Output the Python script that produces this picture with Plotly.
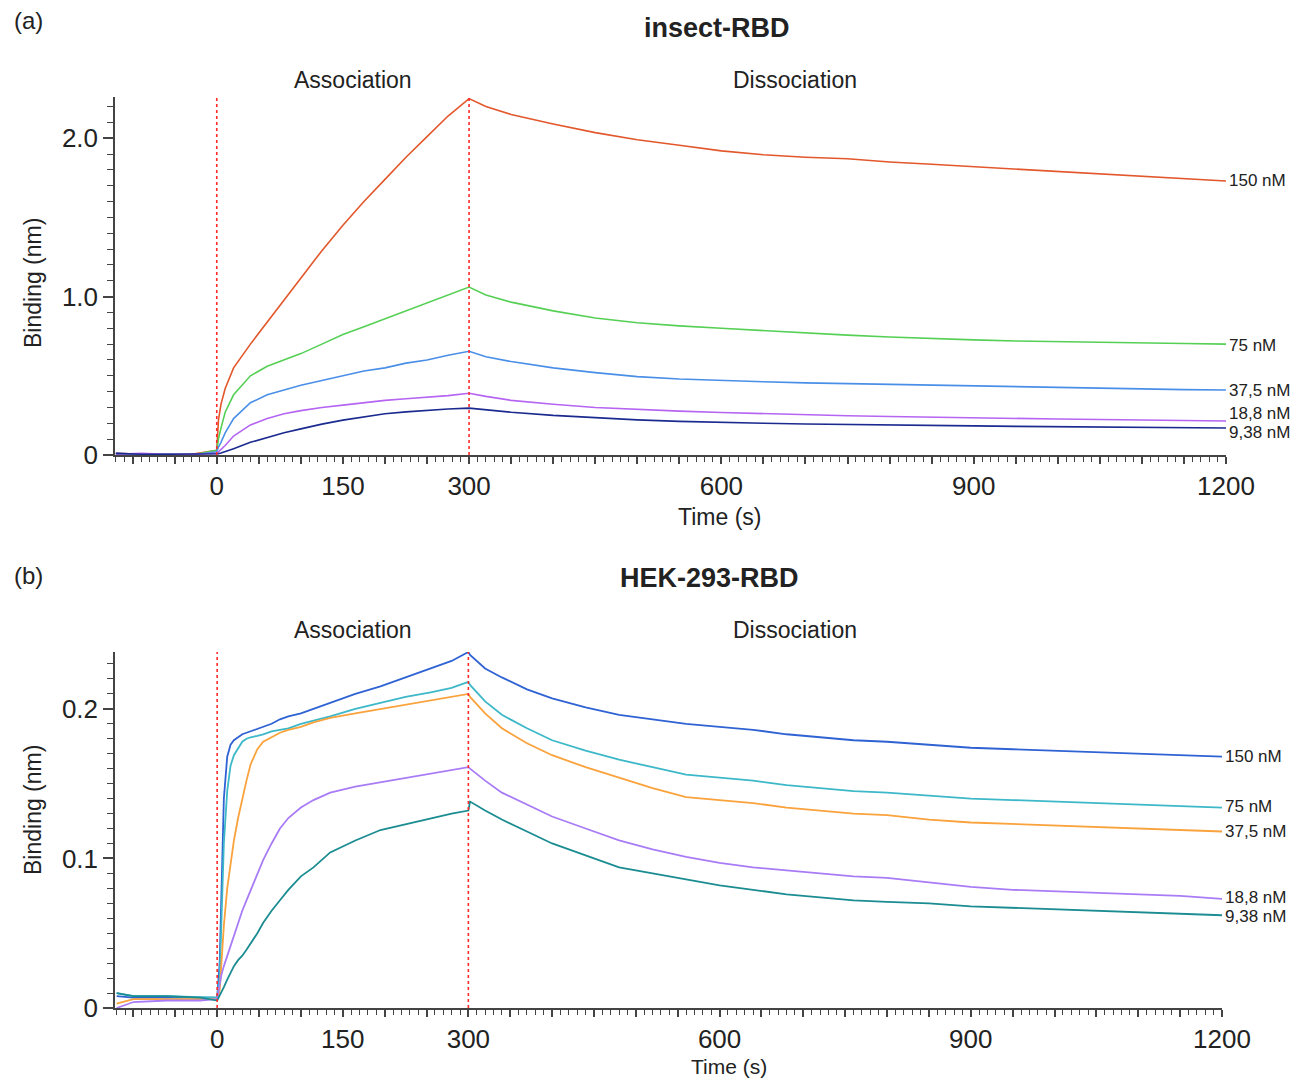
import plotly.graph_objects as go

# ---------------- data ----------------
# (a) insect-RBD
t_a = [-120, -90, -60, -30, 0, 2, 5, 10, 20, 40, 60, 80, 100, 125, 150, 175, 200, 225, 250, 275, 300,
       320, 350, 400, 450, 500, 550, 600, 650, 700, 750, 800, 850, 900, 950, 1000, 1050, 1100, 1150, 1200]
a_150 = [0.01, 0.005, 0.0, 0.005, 0.03, 0.22, 0.32, 0.42, 0.55, 0.70, 0.84, 0.98, 1.12, 1.29, 1.45, 1.60, 1.74, 1.88, 2.01, 2.14, 2.25,
         2.20, 2.15, 2.09, 2.035, 1.99, 1.955, 1.92, 1.895, 1.88, 1.87, 1.85, 1.835, 1.82, 1.805, 1.79, 1.775, 1.76, 1.745, 1.73]
a_75 = [0.0, 0.0, 0.005, 0.0, 0.03, 0.10, 0.17, 0.27, 0.38, 0.50, 0.56, 0.60, 0.64, 0.70, 0.76, 0.81, 0.86, 0.91, 0.96, 1.01, 1.06,
        1.01, 0.965, 0.91, 0.865, 0.835, 0.815, 0.80, 0.785, 0.77, 0.757, 0.745, 0.735, 0.727, 0.72, 0.715, 0.71, 0.707, 0.704, 0.70]
a_37 = [0.01, 0.005, 0.005, 0.0, 0.02, 0.05, 0.08, 0.14, 0.23, 0.33, 0.38, 0.41, 0.44, 0.47, 0.50, 0.53, 0.55, 0.58, 0.60, 0.63, 0.655,
        0.62, 0.59, 0.55, 0.52, 0.495, 0.48, 0.47, 0.462, 0.455, 0.45, 0.445, 0.44, 0.435, 0.43, 0.425, 0.42, 0.416, 0.413, 0.41]
a_18 = [0.005, 0.01, 0.005, 0.005, 0.01, 0.02, 0.04, 0.06, 0.12, 0.19, 0.23, 0.26, 0.28, 0.30, 0.315, 0.33, 0.345, 0.355, 0.365, 0.375, 0.39,
        0.37, 0.345, 0.32, 0.30, 0.287, 0.277, 0.268, 0.26, 0.254, 0.248, 0.243, 0.238, 0.234, 0.23, 0.227, 0.224, 0.221, 0.218, 0.215]
a_9 = [0.01, 0.005, 0.005, 0.005, 0.005, 0.008, 0.012, 0.02, 0.04, 0.08, 0.11, 0.14, 0.165, 0.195, 0.22, 0.24, 0.26, 0.272, 0.282, 0.29, 0.296,
       0.285, 0.27, 0.25, 0.235, 0.222, 0.212, 0.205, 0.2, 0.196, 0.192, 0.189, 0.186, 0.184, 0.181, 0.179, 0.177, 0.175, 0.173, 0.17]

# (b) HEK-293-RBD
t_b = [-120, -100, -60, -20, 0, 3, 5, 8, 12, 16, 20, 25, 30, 35, 40, 48, 55, 65, 75, 85, 100, 115, 135, 165, 195, 225, 255, 280, 300,
       302, 320, 340, 370, 400, 440, 480, 520, 560, 600, 640, 680, 720, 760, 800, 850, 900, 950, 1000, 1050, 1100, 1150, 1200]
b_150 = [0.008, 0.007, 0.007, 0.007, 0.007,
         0.03, 0.08, 0.14, 0.168, 0.176, 0.179, 0.181, 0.183, 0.184, 0.185, 0.187, 0.188, 0.19, 0.193, 0.195, 0.197, 0.2, 0.204, 0.21, 0.215, 0.221, 0.227, 0.232, 0.238,
         0.236,
         0.227, 0.221, 0.213, 0.207, 0.201, 0.196, 0.193, 0.19, 0.188, 0.186, 0.183, 0.181, 0.179, 0.178, 0.176, 0.174, 0.173, 0.172, 0.171, 0.17, 0.169, 0.168]
b_75 = [0.01, 0.008, 0.008, 0.007, 0.007,
        0.02, 0.06, 0.11, 0.145, 0.162, 0.169, 0.174, 0.178, 0.18, 0.181, 0.182, 0.183, 0.185, 0.186, 0.187, 0.19, 0.192, 0.195, 0.2, 0.204, 0.208, 0.211, 0.214, 0.218,
        0.216,
        0.205, 0.196, 0.187, 0.179, 0.172, 0.166, 0.161, 0.156, 0.154, 0.152, 0.149, 0.147, 0.145, 0.144, 0.142, 0.14, 0.139, 0.138, 0.137, 0.136, 0.135, 0.134]
b_37 = [0.003, 0.006, 0.006, 0.006, 0.006,
        0.012, 0.03, 0.055, 0.08, 0.098, 0.112, 0.127, 0.14, 0.152, 0.163, 0.173, 0.178, 0.181, 0.184, 0.186, 0.188, 0.191, 0.194, 0.197, 0.2, 0.203, 0.206, 0.208, 0.21,
        0.208,
        0.197, 0.187, 0.177, 0.169, 0.161, 0.154, 0.147, 0.141, 0.139, 0.137, 0.134, 0.132, 0.13, 0.129, 0.126, 0.124, 0.123, 0.122, 0.121, 0.12, 0.119, 0.118]
b_18 = [0.0, 0.004, 0.005, 0.005, 0.006,
        0.015, 0.022, 0.028, 0.035, 0.042, 0.049, 0.057, 0.065, 0.072, 0.079, 0.09, 0.099, 0.11, 0.12, 0.127, 0.134, 0.139, 0.144, 0.148, 0.151, 0.154, 0.157, 0.159, 0.161,
        0.16,
        0.152, 0.144, 0.136, 0.128, 0.12, 0.112, 0.106, 0.101, 0.097, 0.094, 0.092, 0.09, 0.088, 0.087, 0.084, 0.081, 0.079, 0.078, 0.077, 0.076, 0.075, 0.073]
b_9 = [0.01, 0.008, 0.008, 0.007, 0.005,
       0.008, 0.01, 0.014, 0.019, 0.024, 0.028, 0.032, 0.035, 0.039, 0.043, 0.05, 0.057, 0.065, 0.072, 0.079, 0.088, 0.094, 0.104, 0.112, 0.119, 0.123, 0.127, 0.13, 0.132,
       0.138,
       0.132, 0.126, 0.118, 0.11, 0.102, 0.094, 0.09, 0.086, 0.082, 0.079, 0.076, 0.074, 0.072, 0.071, 0.07, 0.068, 0.067, 0.066, 0.065, 0.064, 0.063, 0.062]

conc_labels = ["150 nM", "75 nM", "37,5 nM", "18,8 nM", "9,38 nM"]
x_tick_vals = [0, 150, 300, 600, 900, 1200]
x_tick_text = ["0", "150", "300", "600", "900", "1200"]
ya_tick_vals = [0, 1.0, 2.0]
ya_tick_text = ["0", "1.0", "2.0"]
yb_tick_vals = [0, 0.1, 0.2]
yb_tick_text = ["0", "0.1", "0.2"]
phase_marks = [0, 300]

# ---------------- style ----------------
OFF = 8                      # default page body margin
FW, FH = 1311 - 2 * OFF, 1086 - 2 * OFF
FONT = "Liberation Sans, Arial, sans-serif"
TXT = "#222222"
AX = "#444444"
colors_a = ["#E2572B", "#55D055", "#4A8FE7", "#B565F2", "#1B2A8F"]
colors_b = ["#2F62D3", "#3DB8C8", "#FAA23C", "#A97CF6", "#1B8C91"]
label_dy_a = [0.0, -0.006, 0.0, 0.044, -0.031]   # label offsets (nm) to avoid overlap
label_dy_b = [0.0, 0.001, 0.0, 0.001, -0.0005]


def px(x):
    return (x - OFF) / FW


def py(y):
    return 1 - (y - OFF) / FH


fig = go.Figure()
series_a = [a_150, a_75, a_37, a_18, a_9]
series_b = [b_150, b_75, b_37, b_18, b_9]

for vals, c, name in zip(series_a, colors_a, conc_labels):
    fig.add_trace(go.Scatter(x=t_a, y=vals, mode="lines", name=name,
                             line=dict(color=c, width=1.6), xaxis="x", yaxis="y",
                             showlegend=False))
for vals, c, name in zip(series_b, colors_b, conc_labels):
    fig.add_trace(go.Scatter(x=t_b, y=vals, mode="lines", name=name,
                             line=dict(color=c, width=1.8), xaxis="x2", yaxis="y2",
                             showlegend=False))

xmajor = list(range(-100, 1201, 50))
xtext = [x_tick_text[x_tick_vals.index(v)] if v in x_tick_vals else "" for v in xmajor]


def xaxis_cfg(dom, rng):
    return dict(domain=dom, range=rng, showline=True, linecolor=AX, linewidth=1.5,
                ticks="outside", ticklen=7, tickwidth=1.5, tickcolor=AX,
                tickmode="array", tickvals=xmajor, ticktext=xtext,
                tickfont=dict(family=FONT, size=26, color=TXT),
                minor=dict(tickmode="linear", tick0=0, dtick=10, ticks="outside",
                           ticklen=5, tickwidth=1.2, tickcolor=AX),
                showgrid=False, zeroline=False, fixedrange=True, automargin=False)


def yaxis_cfg(dom, rng, tv, tt, mdt):
    return dict(domain=dom, range=rng, showline=True, linecolor=AX, linewidth=1.5,
                ticks="outside", ticklen=10, tickwidth=1.5, tickcolor=AX,
                tickmode="array", tickvals=tv, ticktext=tt,
                tickfont=dict(family=FONT, size=26, color=TXT),
                minor=dict(tickmode="linear", tick0=0, dtick=mdt, ticks="outside",
                           ticklen=6, tickwidth=1.2, tickcolor=AX),
                showgrid=False, zeroline=False, fixedrange=True, automargin=False)


fig.update_layout(
    template="none",
    width=FW, height=FH, margin=dict(l=0, r=0, t=0, b=0, pad=0, autoexpand=False),
    paper_bgcolor="white", plot_bgcolor="white",
    xaxis=xaxis_cfg([px(115), px(1226)], [-121, 1200]) | dict(anchor="y"),
    yaxis=yaxis_cfg([py(455), py(97)], [0, 2.26], ya_tick_vals, ya_tick_text, 0.1) | dict(anchor="x"),
    xaxis2=xaxis_cfg([px(115), px(1222)], [-122, 1200]) | dict(anchor="y2"),
    yaxis2=yaxis_cfg([py(1008), py(652)], [0, 0.238], yb_tick_vals, yb_tick_text, 0.01) | dict(anchor="x2"),
)

# phase boundary dashed lines
for xr, yr in (("x", "y domain"), ("x2", "y2 domain")):
    for t in phase_marks:
        fig.add_shape(type="line", xref=xr, yref=yr, x0=t, x1=t, y0=0, y1=1,
                      line=dict(color="#FF2A2A", width=1.6, dash="dot"))

ann = []
# concentration labels at curve ends
for vals, lab, dy in zip(series_a, conc_labels, label_dy_a):
    ann.append(dict(x=t_a[-1], y=vals[-1] + dy, xref="x", yref="y", text=lab, showarrow=False,
                    xanchor="left", yanchor="middle", xshift=1,
                    font=dict(family=FONT, size=17, color=TXT)))
for vals, lab, dy in zip(series_b, conc_labels, label_dy_b):
    ann.append(dict(x=t_b[-1], y=vals[-1] + dy, xref="x2", yref="y2", text=lab, showarrow=False,
                    xanchor="left", yanchor="middle", xshift=1,
                    font=dict(family=FONT, size=17, color=TXT)))


# titles and texts (paper coords)
def text(x, y, s, size, bold=False, angle=0):
    ann.append(dict(x=px(x), y=py(y), xref="paper", yref="paper",
                    text=f"<b>{s}</b>" if bold else s, showarrow=False,
                    xanchor="center", yanchor="middle", textangle=angle,
                    font=dict(family=FONT, size=size, color=TXT)))


text(28, 20, "(a)", 24)
text(28, 575, "(b)", 24)
text(717, 28, "insect-RBD", 27, bold=True)
text(709, 578, "HEK-293-RBD", 27, bold=True)
text(353, 80, "Association", 23)
text(795, 80, "Dissociation", 23)
text(353, 630, "Association", 23)
text(795, 630, "Dissociation", 23)
text(719, 517, "Time (s)", 23)
text(729, 1066, "Time (s)", 21)
text(33, 283, "Binding (nm)", 23, angle=-90)
text(33, 810, "Binding (nm)", 23, angle=-90)

fig.update_layout(annotations=ann)
fig.write_html("out.html")
